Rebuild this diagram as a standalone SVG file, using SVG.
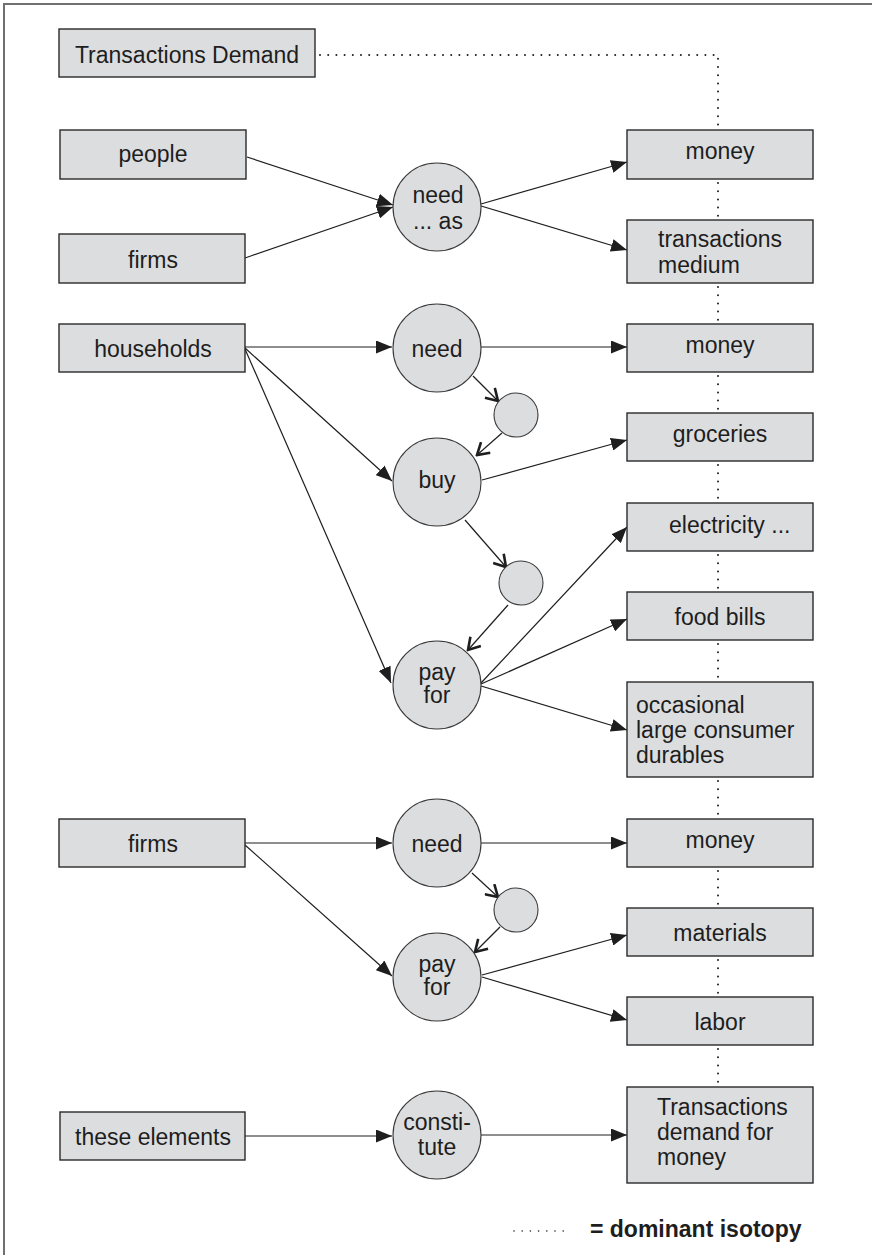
<svg xmlns="http://www.w3.org/2000/svg" width="872" height="1255" viewBox="0 0 872 1255">
<style>
.bg{fill:#ffffff}
.frame{stroke:#707070;stroke-width:2;fill:none}
.box{fill:#dcdddf;stroke:#2a2a2a;stroke-width:1.4}
.circ{fill:#dcdddf;stroke:#3a3a3a;stroke-width:1.1}
.t{font-family:"Liberation Sans",Arial,sans-serif;font-size:23px;fill:#1e1e1e}
.c{text-anchor:middle}
.leg{font-family:"Liberation Sans",Arial,sans-serif;font-size:23px;font-weight:bold;fill:#1e1e1e}
.edge{stroke:#1e1e1e;stroke-width:1.2;fill:none}
.arr{marker-end:url(#fa)}
.open{marker-end:url(#oa)}
.dot{stroke:#1e1e1e;stroke-width:2;stroke-dasharray:0 8.2;stroke-linecap:round;fill:none}
</style>
<defs>
<marker id="fa" markerUnits="userSpaceOnUse" viewBox="0 0 16 13" refX="16" refY="6.5" markerWidth="16" markerHeight="13" orient="auto">
<path d="M0,0 L16,6.5 L0,13 z" fill="#1e1e1e"/>
</marker>
<marker id="oa" markerUnits="userSpaceOnUse" viewBox="-1 -1 14 16" refX="11.5" refY="7" markerWidth="14" markerHeight="16" orient="auto">
<path d="M0,0 L11.5,7 L0,14" fill="none" stroke="#1e1e1e" stroke-width="2.6"/>
</marker>
</defs>
<rect class="bg" x="0" y="0" width="872" height="1255"/>
<path class="frame" d="M4,1255 L4,4 L872,4"/>

<g id="connectors">
<path class="dot" d="M320,55 L718,55 L718,128"/>
<line class="dot" x1="718" y1="183" x2="718" y2="220"/>
<line class="dot" x1="718" y1="287" x2="718" y2="324"/>
<line class="dot" x1="718" y1="376" x2="718" y2="413"/>
<line class="dot" x1="718" y1="465" x2="718" y2="503"/>
<line class="dot" x1="718" y1="555" x2="718" y2="592"/>
<line class="dot" x1="718" y1="644" x2="718" y2="682"/>
<line class="dot" x1="718" y1="781" x2="718" y2="819"/>
<line class="dot" x1="718" y1="871" x2="718" y2="908"/>
<line class="dot" x1="718" y1="960" x2="718" y2="997"/>
<line class="dot" x1="718" y1="1049" x2="718" y2="1087"/>

<line class="edge arr" x1="247" y1="157" x2="393" y2="205"/>
<line class="edge arr" x1="245" y1="258" x2="393" y2="207"/>
<line class="edge arr" x1="481" y1="204" x2="627" y2="162"/>
<line class="edge arr" x1="481" y1="206" x2="627" y2="250"/>

<line class="edge arr" x1="245" y1="347" x2="392" y2="347"/>
<line class="edge arr" x1="245" y1="348" x2="392" y2="481"/>
<line class="edge arr" x1="245" y1="349" x2="391" y2="683"/>
<line class="edge arr" x1="481" y1="347" x2="627" y2="347"/>
<line class="edge open" x1="473" y1="376" x2="498" y2="401"/>
<line class="edge open" x1="502" y1="433" x2="477" y2="455"/>
<line class="edge arr" x1="482" y1="480" x2="627" y2="440"/>
<line class="edge open" x1="465" y1="520" x2="506" y2="567"/>
<line class="edge open" x1="508" y1="605" x2="468" y2="650"/>
<line class="edge arr" x1="481" y1="683" x2="627" y2="527"/>
<line class="edge arr" x1="481" y1="684" x2="627" y2="619"/>
<line class="edge arr" x1="481" y1="686" x2="627" y2="730"/>

<line class="edge arr" x1="245" y1="843" x2="392" y2="843"/>
<line class="edge arr" x1="245" y1="845" x2="392" y2="976"/>
<line class="edge arr" x1="481" y1="843" x2="627" y2="843"/>
<line class="edge open" x1="472" y1="873" x2="498" y2="897"/>
<line class="edge open" x1="500" y1="927" x2="475" y2="952"/>
<line class="edge arr" x1="482" y1="975" x2="627" y2="935"/>
<line class="edge arr" x1="482" y1="977" x2="627" y2="1020"/>

<line class="edge arr" x1="245" y1="1136" x2="392" y2="1136"/>
<line class="edge arr" x1="481" y1="1135" x2="627" y2="1135"/>
</g>

<g id="n-transactions-demand"><rect class="box" x="59" y="29" width="256" height="48"/><text class="t c" x="187" y="63">Transactions Demand</text></g>
<g id="n-people"><rect class="box" x="60" y="130" width="186" height="49"/><text class="t c" x="153" y="162">people</text></g>
<g id="n-firms1"><rect class="box" x="59" y="234" width="186" height="49"/><text class="t c" x="153" y="268">firms</text></g>
<g id="n-households"><rect class="box" x="59" y="324" width="186" height="48"/><text class="t c" x="153" y="357">households</text></g>
<g id="n-firms2"><rect class="box" x="59" y="819" width="186" height="48"/><text class="t c" x="153" y="852">firms</text></g>
<g id="n-these-elements"><rect class="box" x="60" y="1112" width="185" height="48"/><text class="t c" x="153" y="1145">these elements</text></g>

<g id="n-need-as"><circle class="circ" cx="437" cy="207" r="44"/><text class="t c" x="438" y="203">need</text><text class="t c" x="438" y="229">... as</text></g>
<g id="n-need1"><circle class="circ" cx="437" cy="348" r="44"/><text class="t c" x="437" y="357">need</text></g>
<g id="n-s1"><circle class="circ" cx="516" cy="415" r="22"/></g>
<g id="n-buy"><circle class="circ" cx="437" cy="482" r="44"/><text class="t c" x="437" y="488">buy</text></g>
<g id="n-s2"><circle class="circ" cx="521" cy="583" r="22"/></g>
<g id="n-payfor1"><circle class="circ" cx="437" cy="685" r="44"/><text class="t c" x="437" y="680">pay</text><text class="t c" x="437" y="703">for</text></g>
<g id="n-need2"><circle class="circ" cx="437" cy="843" r="44"/><text class="t c" x="437" y="852">need</text></g>
<g id="n-s3"><circle class="circ" cx="516" cy="910" r="22"/></g>
<g id="n-payfor2"><circle class="circ" cx="437" cy="977" r="44"/><text class="t c" x="437" y="972">pay</text><text class="t c" x="437" y="995">for</text></g>
<g id="n-constitute"><circle class="circ" cx="437" cy="1135" r="44"/><text class="t c" x="437" y="1130">consti-</text><text class="t c" x="437" y="1155">tute</text></g>

<g id="n-money1"><rect class="box" x="627" y="130" width="186" height="49"/><text class="t c" x="720" y="159">money</text></g>
<g id="n-transactions-medium"><rect class="box" x="627" y="220" width="186" height="63"/><text class="t" x="658" y="247">transactions</text><text class="t" x="658" y="273">medium</text></g>
<g id="n-money2"><rect class="box" x="627" y="324" width="186" height="48"/><text class="t c" x="720" y="353">money</text></g>
<g id="n-groceries"><rect class="box" x="627" y="413" width="186" height="48"/><text class="t c" x="720" y="442">groceries</text></g>
<g id="n-electricity"><rect class="box" x="627" y="503" width="186" height="48"/><text class="t" x="669" y="533">electricity ...</text></g>
<g id="n-food-bills"><rect class="box" x="627" y="592" width="186" height="48"/><text class="t c" x="720" y="625">food bills</text></g>
<g id="n-occasional"><rect class="box" x="627" y="682" width="186" height="95"/><text class="t" x="636" y="713">occasional</text><text class="t" x="636" y="738">large consumer</text><text class="t" x="636" y="763">durables</text></g>
<g id="n-money3"><rect class="box" x="627" y="819" width="186" height="48"/><text class="t c" x="720" y="848">money</text></g>
<g id="n-materials"><rect class="box" x="627" y="908" width="186" height="48"/><text class="t c" x="720" y="941">materials</text></g>
<g id="n-labor"><rect class="box" x="627" y="997" width="186" height="48"/><text class="t c" x="720" y="1030">labor</text></g>
<g id="n-tdm"><rect class="box" x="627" y="1087" width="186" height="96"/><text class="t" x="657" y="1115">Transactions</text><text class="t" x="657" y="1140">demand for</text><text class="t" x="657" y="1165">money</text></g>

<g id="legend">
<line class="dot" x1="514" y1="1231" x2="566" y2="1231" style="stroke-width:1.6"/>
<text class="leg" x="590" y="1237">= dominant isotopy</text>
</g>
</svg>
